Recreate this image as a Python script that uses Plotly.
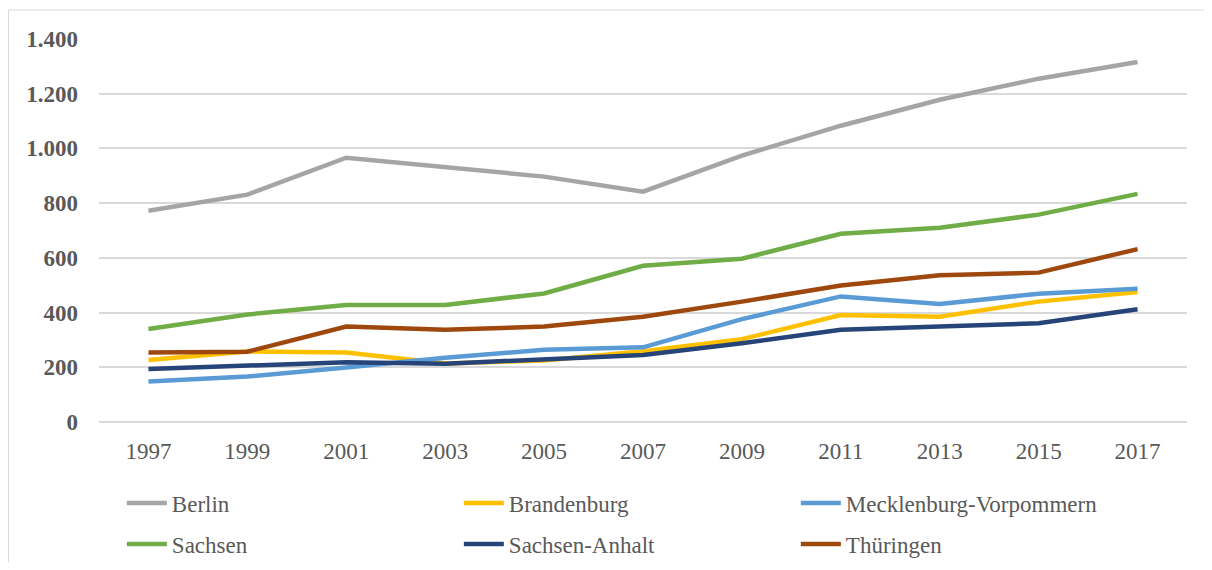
import plotly.graph_objects as go

# data
years = ["1997", "1999", "2001", "2003", "2005", "2007", "2009", "2011", "2013", "2015", "2017"]

berlin = [772, 831, 966, 930, 897, 842, 974, 1083, 1178, 1255, 1316]
brandenburg = [227, 258, 254, 214, 225, 259, 303, 391, 385, 440, 475]
mecklenburg_vorpommern = [148, 166, 199, 235, 264, 273, 376, 459, 431, 469, 487]
sachsen = [340, 393, 428, 428, 470, 571, 597, 688, 710, 758, 834]
sachsen_anhalt = [194, 205, 218, 213, 227, 245, 288, 337, 349, 361, 412]
thueringen = [254, 257, 349, 337, 349, 385, 440, 499, 536, 546, 632]

# name, values, colour, legend row
series = [
    ("Berlin", berlin, "#A5A5A5", "legend"),
    ("Brandenburg", brandenburg, "#FFC000", "legend"),
    ("Mecklenburg-Vorpommern", mecklenburg_vorpommern, "#5B9BD5", "legend"),
    ("Sachsen", sachsen, "#70AD47", "legend2"),
    ("Sachsen-Anhalt", sachsen_anhalt, "#264478", "legend2"),
    ("Thüringen", thueringen, "#9E480E", "legend2"),
]

FONT = "Liberation Serif, Times New Roman, serif"
GREY_TXT = "#595959"
GRID = "#D9D9D9"

fig = go.Figure()
for name, vals, col, leg in series:
    fig.add_trace(go.Scatter(
        x=years, y=vals, name=name, mode="lines",
        line=dict(color=col, width=4.5),
        legend=leg,
    ))

legend_style = dict(
    orientation="h",
    x=0.021, xanchor="left",
    yanchor="middle",
    entrywidth=282, entrywidthmode="pixels",
    font=dict(family=FONT, size=23, color=GREY_TXT),
    itemwidth=40,
    bgcolor="rgba(0,0,0,0)",
)

fig.update_layout(
    width=1204, height=554,
    margin=dict(l=91, r=25, t=31, b=140, autoexpand=False),
    paper_bgcolor="white",
    plot_bgcolor="white",
    separators=",.",
    font=dict(family=FONT, color=GREY_TXT, size=22),
    legend=dict(legend_style, y=-0.2115),
    legend2=dict(legend_style, y=-0.3185),
    xaxis=dict(
        type="category",
        range=[-0.5, 10.5],
        showgrid=False,
        showline=False,
        ticks="",
        tickfont=dict(family=FONT, size=23, color=GREY_TXT),
        ticklabelstandoff=13,
    ),
    yaxis=dict(
        range=[0, 1400],
        dtick=200,
        tickformat=",d",
        gridcolor=GRID,
        gridwidth=1.5,
        zeroline=True,
        zerolinecolor=GRID,
        zerolinewidth=1.5,
        ticks="",
        tickfont=dict(family=FONT, size=23, color=GREY_TXT, weight="bold"),
        ticklabelstandoff=20,
    ),
    shapes=[dict(
        type="rect", xref="paper", yref="paper",
        x0=-0.0832, x1=1.0165, y0=-0.6, y1=1.0757,
        line=dict(color=GRID, width=1),
        layer="below",
    )],
)

fig.write_html("out.html")
